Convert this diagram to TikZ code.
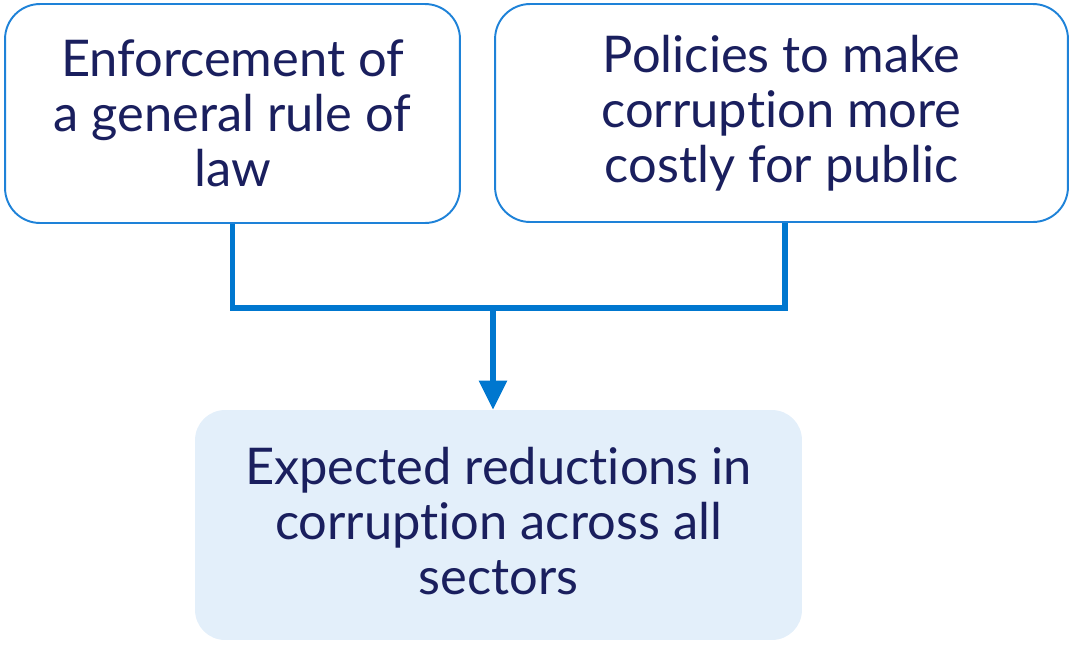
\documentclass[tikz,border=0pt]{standalone}
\usepackage{fontspec}
\setmainfont{Lato}[Ligatures=NoCommon]
\usetikzlibrary{arrows.meta, positioning}
\definecolor{edgeblue}{HTML}{1E82D8}
\definecolor{linkblue}{HTML}{0077CF}
\definecolor{navy}{HTML}{1A1F5E}
\definecolor{paleblue}{HTML}{E3EFFA}
\tikzset{
    cause/.style={rectangle, rounded corners=0.7cm, draw=edgeblue, line width=1.1pt, fill=white, align=center, text=navy, font=\fontsize{28.8}{31.3}\selectfont},
    effect/.style={rectangle, rounded corners=0.6cm, fill=paleblue, align=center, text=navy, font=\fontsize{28.8}{31.3}\selectfont},
    link/.style={linkblue, line width=3.3pt},
    arr/.style={-{Triangle[length=0.58cm, width=0.54cm]}, linkblue, line width=3.3pt},
}
\begin{document}
\begin{tikzpicture}[x=0.02cm, y=-0.02cm]
\useasboundingbox (0,0) rectangle (1077,646);

% -- causes --
\node[cause, minimum width=9.1cm, minimum height=4.38cm] (rule) at (232.5,113.5) {Enforcement of\\a general rule of\\law};
\node[cause, minimum width=11.46cm, minimum height=4.36cm] (policy) at (781.5,113) {Policies to make\\corruption more\\costly for public};

% -- effect --
\node[effect, minimum width=12.14cm, minimum height=4.6cm] (outcome) at (498.5,525) {};
\node[align=center, text=navy, font=\fontsize{28.8}{31.3}\selectfont] (outtext) at (498.5,521) {Expected reductions in\\corruption across all\\sectors};

% -- connectors --
\coordinate (merge) at (493,308);
\coordinate (policyfoot) at ([xshift=0.07cm]policy.south);
\draw[link] (rule.south) |- (merge) -| (policyfoot);
\draw[arr] (merge) -- (merge |- outcome.north);

\end{tikzpicture}
\end{document}
